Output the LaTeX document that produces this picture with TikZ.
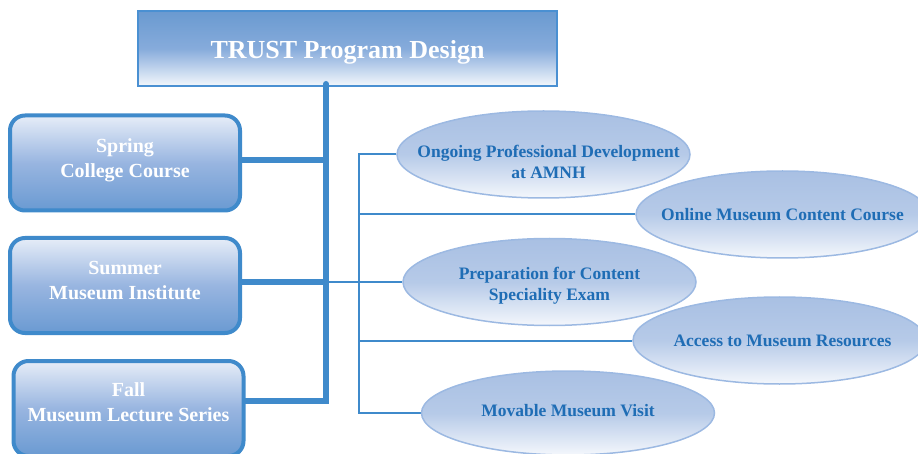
\documentclass[tikz,border=0pt]{standalone}
\usepackage{fontspec}
\setmainfont{Liberation Serif}
\usetikzlibrary{shapes.geometric}
\definecolor{lineblue}{HTML}{3F8ACB}
\definecolor{titleborder}{HTML}{4A90D2}
\definecolor{titletop}{HTML}{6A9AD0}
\definecolor{titlemid}{HTML}{86ABDB}
\definecolor{titlebot}{HTML}{F3F7FC}
\definecolor{boxtop}{HTML}{E6EDF8}
\definecolor{boxmid}{HTML}{98B5E0}
\definecolor{boxbot}{HTML}{6A9AD2}
\definecolor{elltop}{HTML}{A9C0E3}
\definecolor{ellmid}{HTML}{B6CAE8}
\definecolor{ellbot}{HTML}{F4F7FC}
\definecolor{ellborder}{HTML}{9CB9E2}
\definecolor{elltext}{HTML}{1F6DB5}
\pgfdeclarelayer{bg}
\pgfsetlayers{bg,main}
\begin{document}
\begin{tikzpicture}[x=1pt,y=-1pt,
  titlebox/.style={draw=titleborder, line width=2pt, top color=titletop, bottom color=titlebot, middle color=titlemid,
    minimum width=419pt, minimum height=75pt, inner sep=0pt, text=white, text height=25pt,
    font=\fontsize{26}{30}\selectfont\bfseries},
  leftbox/.style={draw=lineblue, line width=4pt, rounded corners=15pt, top color=boxtop, bottom color=boxbot, middle color=boxmid,
    minimum width=230pt, minimum height=95pt, inner sep=0pt, align=center, text=white,
    font=\fontsize{20}{25}\selectfont\bfseries},
  oval/.style={ellipse, draw=ellborder, line width=1.5pt, top color=elltop, bottom color=ellbot, middle color=ellmid,
    minimum width=293pt, minimum height=87pt, inner sep=0pt},
  ovaltext/.style={inner sep=0pt, align=center, text=elltext, font=\fontsize{17.5}{21}\selectfont\bfseries},
  thickconn/.style={draw=lineblue, line width=6pt},
  thinconn/.style={draw=lineblue, line width=2pt}]
\clip (0,0) rectangle (918,454);
\begin{pgfonlayer}{bg}
\node[titlebox] (title) at (347.5,48.5) {TRUST Program Design};
\end{pgfonlayer}
% left boxes
\node[leftbox, text depth=10pt] (spring) at (125,163) {Spring\\College Course};
\node[leftbox, text depth=10pt] (summer) at (125,285.5) {Summer\\Museum Institute};
\node[leftbox, text depth=12pt] (fall) at (128.5,408.5) {Fall\\Museum Lecture Series};
% ellipses
\node[oval, label={[ovaltext, xshift=5pt, yshift=-7pt]center:Ongoing Professional Development\\at AMNH}] (e1) at (543.5,154.5) {};
\node[oval, label={[ovaltext]center:Online Museum Content Course}] (e2) at (782.5,214.5) {};
\node[oval, label={[ovaltext, yshift=-4pt]center:Preparation for Content\\Speciality Exam}] (e3) at (549.5,282) {};
\node[oval, label={[ovaltext, xshift=3pt]center:Access to Museum Resources}] (e4) at (779.5,340.5) {};
\node[oval, minimum height=84pt, label={[ovaltext, yshift=2pt]center:Movable Museum Visit}] (e5) at (568,413) {};
\coordinate (sTop) at (326,84);
\coordinate (bx) at (359,300);
\begin{pgfonlayer}{bg}
\draw[thickconn, line cap=round] (sTop) |- ([yshift=7.5pt]fall.east);
\draw[thickconn] ([yshift=3pt]spring.east) -- ([yshift=3pt]spring.east -| sTop);
\draw[thickconn] (summer.east |- e3.west) -- (e3.west -| sTop);
\draw[thinconn] (e3.west -| sTop) -- (e3.west);
\draw[thinconn] (e1.west) -- (e1.west -| bx) -- (e5.west -| bx) -- (e5.west);
\draw[thinconn] (e2.west -| bx) -- (e2.west);
\draw[thinconn] (e4.west -| bx) -- (e4.west);
\end{pgfonlayer}
\end{tikzpicture}
\end{document}
